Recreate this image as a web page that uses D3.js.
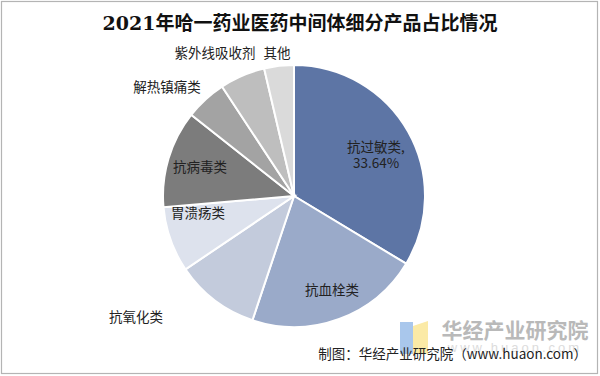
<!DOCTYPE html>
<html>
<head>
<meta charset="utf-8">
<script src="https://d3js.org/d3.v7.min.js"></script>
<style>
body { margin: 0; background: #fff; }
svg { display: block; }
</style>
</head>
<body>
<script>
// slice data, clockwise from 12 o'clock
const names = ["抗过敏类", "抗血栓类", "抗氧化类", "胃溃疡类", "抗病毒类", "解热镇痛类", "紫外线吸收剂", "其他"];
const shares = [33.64, 21.5, 10.4, 8.1, 12.0, 5.1, 5.6, 3.66];
const colors = ["#5d75a5", "#9aaac9", "#c3cbdc", "#dde2ed", "#7c7c7c", "#a3a3a3", "#bebebe", "#dadada"];
// label positions (relative to pie centre)
const labelOffsets = [[82, -49], [38, 94], [-158, 121], [-96, 17], [-94, -29], [-127, -109], [-79, -143], [-17, -143]];

const W = 600, H = 376;
const cx = 294, cy = 196, r = 131;

const svg = d3.select("body").append("svg")
  .attr("width", W).attr("height", H);

// frame
svg.append("rect")
  .attr("x", 1.5).attr("y", 1.5)
  .attr("width", W - 4).attr("height", H - 4)
  .attr("fill", "#fff").attr("stroke", "#b4b4b4").attr("stroke-width", 1.2);

// title
svg.append("text")
  .attr("x", 300).attr("y", 30)
  .attr("text-anchor", "middle")
  .attr("font-family", "'DejaVu Serif', 'Noto Sans CJK SC', serif")
  .attr("font-size", 19).attr("font-weight", "bold")
  .attr("fill", "#111")
  .text("2021年哈一药业医药中间体细分产品占比情况");

const pie = d3.pie().sort(null).value(d => d);
const arc = d3.arc().innerRadius(0).outerRadius(r);

const g = svg.append("g").attr("transform", "translate(" + cx + "," + cy + ")");

g.selectAll("path")
  .data(pie(shares))
  .enter().append("path")
  .attr("d", arc)
  .attr("fill", (d, i) => colors[i])
  .attr("stroke", "#fff")
  .attr("stroke-width", 2);

// labels
const lab = g.selectAll("text.lab")
  .data(names)
  .enter().append("text")
  .attr("class", "lab")
  .attr("x", (d, i) => labelOffsets[i][0])
  .attr("y", (d, i) => labelOffsets[i][1])
  .attr("text-anchor", "middle")
  .attr("font-family", "'Noto Sans CJK SC', sans-serif")
  .attr("font-size", 13.5)
  .attr("fill", "#222");

lab.each(function(d, i) {
  const t = d3.select(this);
  t.append("tspan").attr("x", labelOffsets[i][0]).attr("dy", "0.35em")
    .text(i === 0 ? d + "," : d);
  if (i === 0) {
    t.append("tspan").attr("x", labelOffsets[i][0]).attr("dy", 16.5)
      .text(shares[i].toFixed(2) + "%");
  }
});

// watermark logo
const wm = svg.append("g");
wm.append("rect").attr("x", 400).attr("y", 322).attr("width", 13).attr("height", 32)
  .attr("fill", "#a9c7ec");
wm.append("path").attr("d", "M413,326 L428,321 L428,354 L413,354 Z")
  .attr("fill", "#fbeaa6");
wm.append("text")
  .attr("x", 515).attr("y", 338)
  .attr("text-anchor", "middle")
  .attr("font-family", "'Noto Sans CJK SC', sans-serif")
  .attr("font-size", 21).attr("font-weight", "bold")
  .attr("fill", "#b9b9b9")
  .text("华经产业研究院");
wm.append("text")
  .attr("x", 515).attr("y", 352)
  .attr("text-anchor", "middle")
  .attr("font-family", "'Liberation Sans', sans-serif")
  .attr("font-size", 13).attr("letter-spacing", 3)
  .attr("fill", "#dcdcdc")
  .text("www.huaon.com");

// source line
svg.append("text")
  .attr("x", 587).attr("y", 359)
  .attr("text-anchor", "end")
  .attr("font-family", "'Noto Sans CJK SC', sans-serif")
  .attr("font-size", 13.5)
  .attr("fill", "#222")
  .text("制图：华经产业研究院（www.huaon.com）");
</script>
</body>
</html>
